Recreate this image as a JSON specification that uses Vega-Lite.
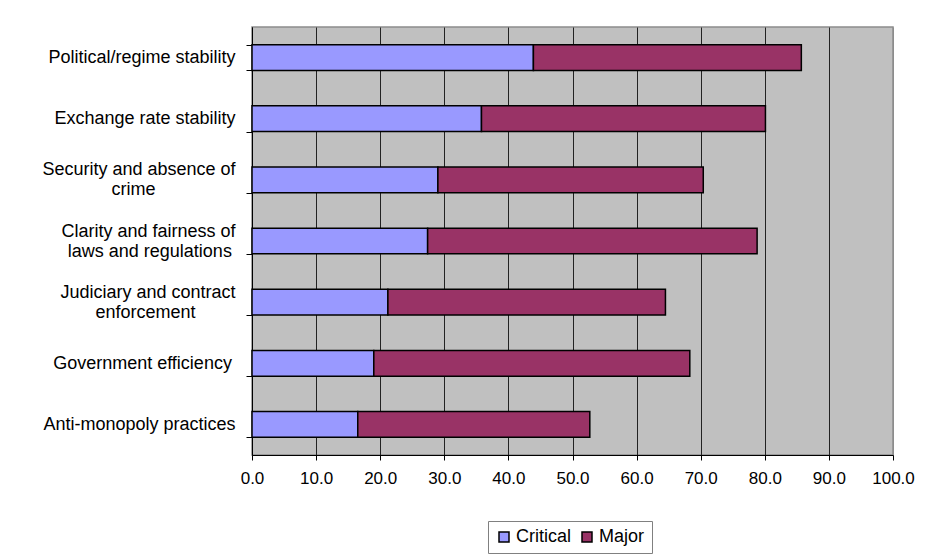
{
  "$schema": "https://vega.github.io/schema/vega-lite/v6.json",
  "width": 641,
  "height": 428,
  "autosize": {"type": "none"},
  "padding": {"left": 252, "top": 27, "right": 32, "bottom": 103},
  "background": "white",
  "config": {
    "font": "Liberation Sans",
    "view": {"fill": "#C0C0C0", "stroke": "#8c8c8c", "strokeWidth": 1.5},
    "axis": {"labelFont": "Liberation Sans", "labelColor": "#000", "labelFontSize": 17}
  },
  "data": {
    "values": [
      {"factor": "Political/regime stability", "level": "Critical", "pct": 43.9},
      {"factor": "Political/regime stability", "level": "Major", "pct": 41.8},
      {"factor": "Exchange rate stability", "level": "Critical", "pct": 35.8},
      {"factor": "Exchange rate stability", "level": "Major", "pct": 44.3},
      {"factor": "Security and absence of crime", "level": "Critical", "pct": 29.0},
      {"factor": "Security and absence of crime", "level": "Major", "pct": 41.4},
      {"factor": "Clarity and fairness of laws and regulations", "level": "Critical", "pct": 27.4},
      {"factor": "Clarity and fairness of laws and regulations", "level": "Major", "pct": 51.4},
      {"factor": "Judiciary and contract enforcement", "level": "Critical", "pct": 21.2},
      {"factor": "Judiciary and contract enforcement", "level": "Major", "pct": 43.3},
      {"factor": "Government efficiency", "level": "Critical", "pct": 19.0},
      {"factor": "Government efficiency", "level": "Major", "pct": 49.3},
      {"factor": "Anti-monopoly practices", "level": "Critical", "pct": 16.5},
      {"factor": "Anti-monopoly practices", "level": "Major", "pct": 36.2}
    ]
  },
  "mark": {"type": "bar", "stroke": "#000", "strokeWidth": 1.5},
  "encoding": {
    "y": {
      "field": "factor",
      "type": "nominal",
      "sort": null,
      "scale": {"paddingInner": 0.58, "paddingOuter": 0.29},
      "axis": {
        "title": null,
        "tickBand": "extent",
        "tickSize": 6,
        "tickColor": "#000",
        "domainColor": "#000",
        "labelFontSize": 18,
        "labelPadding": 11,
        "labelLineHeight": 20,
        "labelLimit": 260,
        "labelOffset": {"condition": {"test": "indexof(['Security and absence of crime', 'Clarity and fairness of laws and regulations', 'Judiciary and contract enforcement'], datum.value) >= 0", "value": -10}, "value": 0},
        "labelExpr": "datum.label == 'Security and absence of crime' ? ['Security and absence of', 'crime\u2007\u2007\u2007\u2007\u2007\u2007\u2007\u2007\u2060'] : datum.label == 'Clarity and fairness of laws and regulations' ? ['Clarity and fairness of', 'laws and regulations\u2009\u2060'] : datum.label == 'Judiciary and contract enforcement' ? ['Judiciary and contract', 'enforcement\u2007\u2007\u2007\u2007\u2060'] : datum.label == 'Government efficiency' ? 'Government efficiency\u2009\u2060' : datum.label"
      }
    },
    "x": {
      "field": "pct",
      "type": "quantitative",
      "stack": "zero",
      "scale": {"domain": [0, 100], "nice": false},
      "axis": {
        "title": null,
        "values": [0, 10, 20, 30, 40, 50, 60, 70, 80, 90, 100],
        "format": ".1f",
        "grid": true,
        "gridColor": {"condition": {"test": "datum.value === 100", "value": "#8c8c8c"}, "value": "#222"},
        "gridWidth": 1,
        "tickSize": 5,
        "tickColor": "#000",
        "domainColor": "#000",
        "labelPadding": 10,
        "labelFlush": false
      }
    },
    "color": {
      "field": "level",
      "type": "nominal",
      "scale": {"domain": ["Critical", "Major"], "range": ["#9999FF", "#993366"]},
      "legend": {
        "title": null,
        "orient": "none",
        "direction": "horizontal",
        "legendX": 236,
        "legendY": 494,
        "symbolType": "square",
        "symbolSize": 100,
        "symbolStrokeColor": "#000",
        "symbolStrokeWidth": 1.5,
        "symbolOpacity": 1,
        "labelFontSize": 18,
        "labelFont": "Liberation Sans",
        "labelColor": "#000",
        "labelOffset": 3,
        "columnPadding": 6,
        "padding": 7,
        "strokeColor": "#808080",
        "fillColor": "#ffffff"
      }
    },
    "order": {"field": "level", "sort": "ascending"}
  }
}
